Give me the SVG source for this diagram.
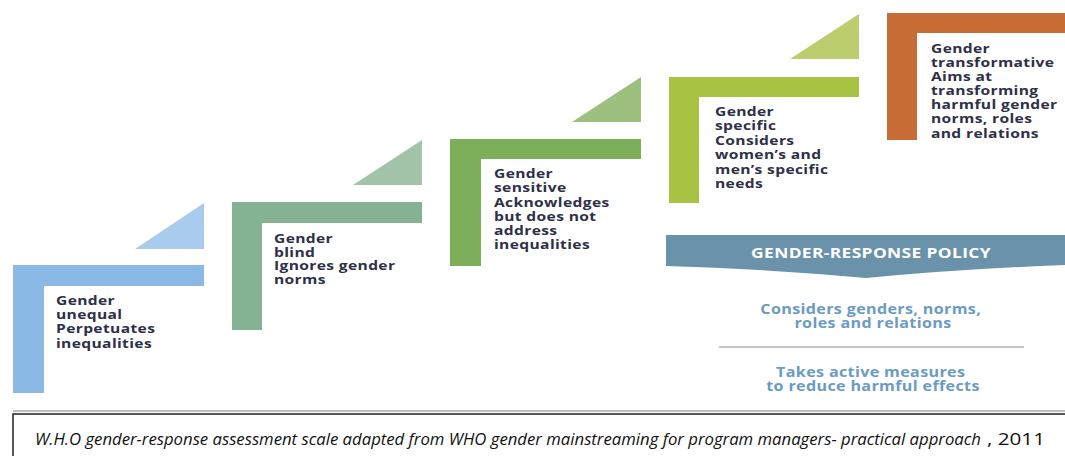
<svg xmlns="http://www.w3.org/2000/svg" width="1065" height="456" viewBox="0 0 1065 456">
  <style>
    .lbl { font-family: "Open Sans", "Noto Sans", sans-serif; font-weight: 700; font-size: 13px; fill: #2e3047; letter-spacing: 0.3px; }
    .ban { font-family: "Open Sans", "Noto Sans", sans-serif; font-weight: 700; font-size: 14.5px; fill: #ffffff; text-anchor: middle; letter-spacing: 0.3px; }
    .pol { font-family: "Open Sans", "Noto Sans", sans-serif; font-weight: 700; font-size: 13.4px; fill: #6b9bc3; text-anchor: middle; letter-spacing: 0.3px; }
    .cap { font-family: "Open Sans", "Liberation Sans", sans-serif; font-size: 17px; fill: #111111; }
  </style>
  <rect width="1065" height="456" fill="#ffffff"/>

  <!-- step 1: gender unequal -->
  <g id="step-unequal">
    <polygon points="135,249 204,249 204,203" fill="#a9ccee"/>
    <path d="M13,265 H204 V286 H44 V393 H13 Z" fill="#8bb9e6"/>
    <text class="lbl" transform="translate(56,305) scale(1.2,1)">
      <tspan x="0" y="0">Gender</tspan>
      <tspan x="0" y="14.2">unequal</tspan>
      <tspan x="0" y="28.4">Perpetuates</tspan>
      <tspan x="0" y="42.6">inequalities</tspan>
    </text>
  </g>

  <!-- step 2: gender blind -->
  <g id="step-blind">
    <polygon points="353,185 422,185 422,140" fill="#a3c3a9"/>
    <path d="M232,202 H422 V223 H262 V330 H232 Z" fill="#86b294"/>
    <text class="lbl" transform="translate(274,243) scale(1.2,1)">
      <tspan x="0" y="0">Gender</tspan>
      <tspan x="0" y="13.6">blind</tspan>
      <tspan x="0" y="27.2">Ignores gender</tspan>
      <tspan x="0" y="40.8">norms</tspan>
    </text>
  </g>

  <!-- step 3: gender sensitive -->
  <g id="step-sensitive">
    <polygon points="572,122 641,122 641,77" fill="#9dc07f"/>
    <path d="M450,139 H641 V159 H481 V266 H450 Z" fill="#7daf5a"/>
    <text class="lbl" transform="translate(494,178) scale(1.2,1)">
      <tspan x="0" y="0">Gender</tspan>
      <tspan x="0" y="14.3">sensitive</tspan>
      <tspan x="0" y="28.6">Acknowledges</tspan>
      <tspan x="0" y="42.9">but does not</tspan>
      <tspan x="0" y="57.2">address</tspan>
      <tspan x="0" y="71.5">inequalities</tspan>
    </text>
  </g>

  <!-- step 4: gender specific -->
  <g id="step-specific">
    <polygon points="790,59 859,59 859,14" fill="#bccd6e"/>
    <path d="M669,77 H859 V97 H699 V203 H669 Z" fill="#a8c244"/>
    <text class="lbl" transform="translate(715,116) scale(1.2,1)">
      <tspan x="0" y="0">Gender</tspan>
      <tspan x="0" y="14.4">specific</tspan>
      <tspan x="0" y="28.8">Considers</tspan>
      <tspan x="0" y="43.2">women’s and</tspan>
      <tspan x="0" y="57.6">men’s specific</tspan>
      <tspan x="0" y="72">needs</tspan>
    </text>
  </g>

  <!-- step 5: gender transformative -->
  <g id="step-transformative">
    <path d="M887,13 H1065 V33 H917 V140 H887 Z" fill="#c76d35"/>
    <text class="lbl" transform="translate(931,53) scale(1.2,1)">
      <tspan x="0" y="0">Gender</tspan>
      <tspan x="0" y="14.1">transformative</tspan>
      <tspan x="0" y="28.2">Aims at</tspan>
      <tspan x="0" y="42.3">transforming</tspan>
      <tspan x="0" y="56.4">harmful gender</tspan>
      <tspan x="0" y="70.5">norms, roles</tspan>
      <tspan x="0" y="84.6">and relations</tspan>
    </text>
  </g>

  <!-- policy banner and notes -->
  <g id="policy">
    <path d="M666,235 H1065 V265 Q960,269 866,278 Q770,269 666,266 Z" fill="#6a92ab"/>
    <text class="ban" transform="translate(871,258) scale(1.2,1)" x="0" y="0">GENDER-RESPONSE POLICY</text>
    <text class="pol" transform="translate(873,314) scale(1.2,1)">
      <tspan x="0" y="0">Considers genders, norms,</tspan>
      <tspan x="0" y="14.2">roles and relations</tspan>
    </text>
    <line x1="719" y1="347" x2="1024" y2="347" stroke="#8a8a8a" stroke-width="1"/>
    <text class="pol" transform="translate(873,377) scale(1.2,1)">
      <tspan x="0" y="0">Takes active measures</tspan>
      <tspan x="0" y="14.5">to reduce harmful effects</tspan>
    </text>
  </g>

  <!-- source caption -->
  <g id="caption">
    <line x1="13" y1="411" x2="1065" y2="411" stroke="#a8a8a8" stroke-width="1.5"/>
    <rect x="13" y="414" width="1062" height="60" fill="none" stroke="#222222" stroke-width="1.5"/>
    <text class="cap" x="35" y="445" font-style="italic" textLength="946" lengthAdjust="spacingAndGlyphs">W.H.O gender-response assessment scale adapted from WHO gender mainstreaming for program managers- practical approach</text>
    <text class="cap" x="987" y="445" font-size="18" textLength="58" lengthAdjust="spacingAndGlyphs">, 2011</text>
  </g>
</svg>
